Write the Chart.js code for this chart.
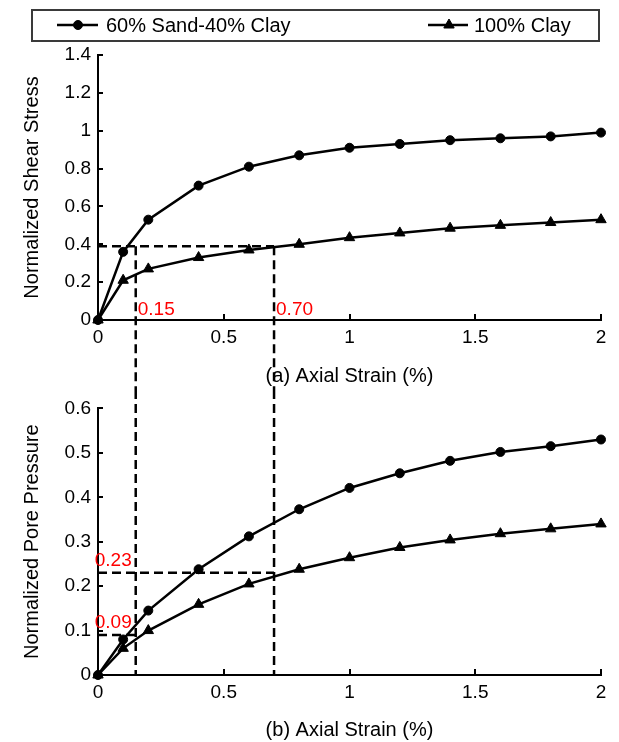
<!DOCTYPE html>
<html>
<head>
<meta charset="utf-8">
<script src="https://cdn.jsdelivr.net/npm/chart.js@4.4.1/dist/chart.umd.min.js"></script>
<style>
  html, body { margin: 0; padding: 0; background: #fff; }
  canvas { display: block; }
</style>
</head>
<body>
<canvas id="shear" width="619" height="390"></canvas>
<canvas id="pore" width="619" height="352"></canvas>
<script>
// Axial strain (%) at each test reading
const strain = [0, 0.1, 0.2, 0.4, 0.6, 0.8, 1.0, 1.2, 1.4, 1.6, 1.8, 2.0];

// (a) normalized shear stress
const sandShear = [0, 0.36, 0.53, 0.71, 0.81, 0.87, 0.91, 0.93, 0.95, 0.96, 0.97, 0.99];
const clayShear = [0, 0.21, 0.27, 0.33, 0.37, 0.40, 0.435, 0.46, 0.485, 0.50, 0.515, 0.53];

// (b) normalized pore pressure
const sandPore = [0, 0.08, 0.145, 0.238, 0.312, 0.373, 0.421, 0.454, 0.482, 0.502, 0.515, 0.53];
const clayPore = [0, 0.06, 0.10, 0.159, 0.205, 0.238, 0.264, 0.287, 0.304, 0.318, 0.329, 0.34];

const seriesNames = ['60% Sand-40% Clay', '100% Clay'];

const strainTicks = [0, 0.5, 1, 1.5, 2];
const strainTickLabels = ['0', '0.5', '1', '1.5', '2'];
const shearTicks = [0, 0.2, 0.4, 0.6, 0.8, 1, 1.2, 1.4];
const shearTickLabels = ['0', '0.2', '0.4', '0.6', '0.8', '1', '1.2', '1.4'];
const poreTicks = [0, 0.1, 0.2, 0.3, 0.4, 0.5, 0.6];
const poreTickLabels = ['0', '0.1', '0.2', '0.3', '0.4', '0.5', '0.6'];

// Guide lines: strains read at equal shear stress, and the pore pressures there
const strainMarks = [0.15, 0.70];
const strainMarkLabels = ['0.15', '0.70'];
const shearLevel = 0.39;
const poreMarks = [0.23, 0.09];
const poreMarkLabels = ['0.23', '0.09'];

const FONT = '"Liberation Sans", Arial, Helvetica, sans-serif';

function pts(ys) { return strain.map((x, i) => ({ x: x, y: ys[i] })); }

function series(name, ys, style, radius) {
  return {
    label: name,
    data: pts(ys),
    borderColor: '#000',
    backgroundColor: '#000',
    borderWidth: 2.5,
    pointStyle: style,
    pointRadius: radius,
    pointBackgroundColor: '#000',
    pointBorderColor: '#000',
    pointBorderWidth: 1,
    tension: 0,
    clip: false
  };
}

function fixedTicks(values) {
  return function (scale) { scale.ticks = values.map(v => ({ value: v })); };
}

// Short inward tick marks on both axes
const inwardTicks = {
  id: 'inwardTicks',
  afterDraw(chart) {
    const { ctx, scales: { x, y } } = chart;
    ctx.save();
    ctx.strokeStyle = '#000';
    ctx.lineWidth = 2;
    ctx.beginPath();
    x.ticks.forEach(t => {
      const px = Math.round(x.getPixelForValue(t.value));
      ctx.moveTo(px, y.bottom);
      ctx.lineTo(px, y.bottom - 6);
    });
    y.ticks.forEach(t => {
      const py = Math.round(y.getPixelForValue(t.value));
      ctx.moveTo(x.left, py);
      ctx.lineTo(x.left + 5, py);
    });
    ctx.stroke();
    ctx.restore();
  }
};

// Boxed legend across the top, each entry a line with its marker
const boxedLegend = {
  id: 'boxedLegend',
  afterDraw(chart) {
    const ctx = chart.ctx;
    const slots = [
      { x0: 57, x1: 98, mx: 78, tx: 106 },
      { x0: 428, x1: 468, mx: 449, tx: 474 }
    ];
    const cy = 25;
    ctx.save();
    ctx.strokeStyle = '#3a3a3a';
    ctx.lineWidth = 2;
    ctx.strokeRect(32, 10, 567, 31);
    chart.data.datasets.forEach((ds, i) => {
      const s = slots[i];
      ctx.strokeStyle = ds.borderColor;
      ctx.lineWidth = ds.borderWidth;
      ctx.beginPath();
      ctx.moveTo(s.x0, cy);
      ctx.lineTo(s.x1, cy);
      ctx.stroke();
      ctx.fillStyle = ds.pointBackgroundColor;
      ctx.lineWidth = 1;
      Chart.helpers.drawPoint(ctx, { pointStyle: ds.pointStyle, radius: ds.pointRadius, rotation: 0, borderWidth: 1 }, s.mx, cy);
      ctx.fillStyle = '#000';
      ctx.font = '20px ' + FONT;
      ctx.textAlign = 'left';
      ctx.textBaseline = 'middle';
      ctx.fillText(ds.label, s.tx, cy + 1);
    });
    ctx.restore();
  }
};

function dashStyle(ctx) {
  ctx.strokeStyle = '#000';
  ctx.lineWidth = 2.5;
  ctx.setLineDash([9, 5]);
}

function redLabel(ctx, text, px, py, align) {
  ctx.save();
  ctx.setLineDash([]);
  ctx.fillStyle = '#ff0000';
  ctx.font = '19px ' + FONT;
  ctx.textAlign = align;
  ctx.textBaseline = 'middle';
  ctx.fillText(text, px, py);
  ctx.restore();
}

const shearGuides = {
  id: 'shearGuides',
  afterDraw(chart) {
    const { ctx, scales: { x, y } } = chart;
    const yl = y.getPixelForValue(shearLevel);
    ctx.save();
    dashStyle(ctx);
    ctx.beginPath();
    ctx.moveTo(x.getPixelForValue(0), yl);
    ctx.lineTo(x.getPixelForValue(strainMarks[1]), yl);
    strainMarks.forEach(s => {
      const px = x.getPixelForValue(s);
      ctx.moveTo(px, yl);
      ctx.lineTo(px, chart.height);
    });
    ctx.stroke();
    strainMarks.forEach((s, i) => {
      redLabel(ctx, strainMarkLabels[i], x.getPixelForValue(s) + 2, y.getPixelForValue(0) - 10, 'left');
    });
    ctx.restore();
  }
};

const poreGuides = {
  id: 'poreGuides',
  afterDraw(chart) {
    const { ctx, scales: { x, y } } = chart;
    const y0 = y.getPixelForValue(0);
    ctx.save();
    dashStyle(ctx);
    ctx.beginPath();
    strainMarks.forEach(s => {
      const px = x.getPixelForValue(s);
      ctx.moveTo(px, 0);
      ctx.lineTo(px, y0);
    });
    // 0.23 reaches the clay strain, 0.09 the sand-clay strain
    poreMarks.forEach((p, i) => {
      const py = y.getPixelForValue(p);
      ctx.moveTo(x.getPixelForValue(0), py);
      ctx.lineTo(x.getPixelForValue(strainMarks[1 - i]), py);
    });
    ctx.stroke();
    poreMarks.forEach((p, i) => {
      redLabel(ctx, poreMarkLabels[i], x.getPixelForValue(strainMarks[0]) - 4, y.getPixelForValue(p) - 12, 'right');
    });
    ctx.restore();
  }
};

function makeChart(id, opts) {
  return new Chart(document.getElementById(id), {
    type: 'line',
    data: { datasets: opts.datasets },
    options: {
      responsive: false,
      animation: false,
      devicePixelRatio: 1,
      layout: { padding: opts.padding },
      plugins: { legend: { display: false }, tooltip: { enabled: false } },
      scales: {
        x: {
          type: 'linear',
          min: 0, max: 2,
          afterBuildTicks: fixedTicks(strainTicks),
          afterFit: s => { s.height = opts.xHeight; },
          grid: { display: false, drawTicks: false },
          border: { display: true, color: '#000', width: 2 },
          ticks: {
            color: '#000', padding: 6, maxRotation: 0, autoSkip: false,
            font: { size: 19, family: FONT },
            callback: (v, i) => strainTickLabels[i]
          },
          title: {
            display: true, text: opts.xTitle, color: '#000',
            font: { size: 20, family: FONT },
            padding: { top: 0, bottom: opts.xTitlePad }
          }
        },
        y: {
          type: 'linear',
          min: 0, max: opts.yMax,
          afterBuildTicks: fixedTicks(opts.yTicks),
          afterFit: s => { s.width = 98; },
          grid: { display: false, drawTicks: false },
          border: { display: true, color: '#000', width: 2 },
          ticks: {
            color: '#000', padding: 7, autoSkip: false,
            font: { size: 19, family: FONT },
            callback: (v, i) => opts.yTickLabels[i]
          },
          title: {
            display: true, text: opts.yTitle, color: '#000',
            font: { size: 20, family: FONT },
            padding: { top: 20, bottom: 0 }
          }
        }
      }
    },
    plugins: opts.plugins
  });
}

makeChart('shear', {
  datasets: [
    series(seriesNames[0], sandShear, 'circle', 4.5),
    series(seriesNames[1], clayShear, 'triangle', 6)
  ],
  padding: { top: 55, right: 18, bottom: 0, left: 0 },
  xHeight: 70,
  xTitle: '(a) Axial Strain (%)',
  xTitlePad: 2,
  yMax: 1.4,
  yTicks: shearTicks,
  yTickLabels: shearTickLabels,
  yTitle: 'Normalized Shear Stress',
  plugins: [inwardTicks, boxedLegend, shearGuides]
});

makeChart('pore', {
  datasets: [
    series(seriesNames[0], sandPore, 'circle', 4.5),
    series(seriesNames[1], clayPore, 'triangle', 6)
  ],
  padding: { top: 14, right: 18, bottom: 0, left: 0 },
  xHeight: 67,
  xTitle: '(b) Axial Strain (%)',
  xTitlePad: 0,
  yMax: 0.6,
  yTicks: poreTicks,
  yTickLabels: poreTickLabels,
  yTitle: 'Normalized Pore Pressure',
  plugins: [inwardTicks, poreGuides]
});
</script>
</body>
</html>
